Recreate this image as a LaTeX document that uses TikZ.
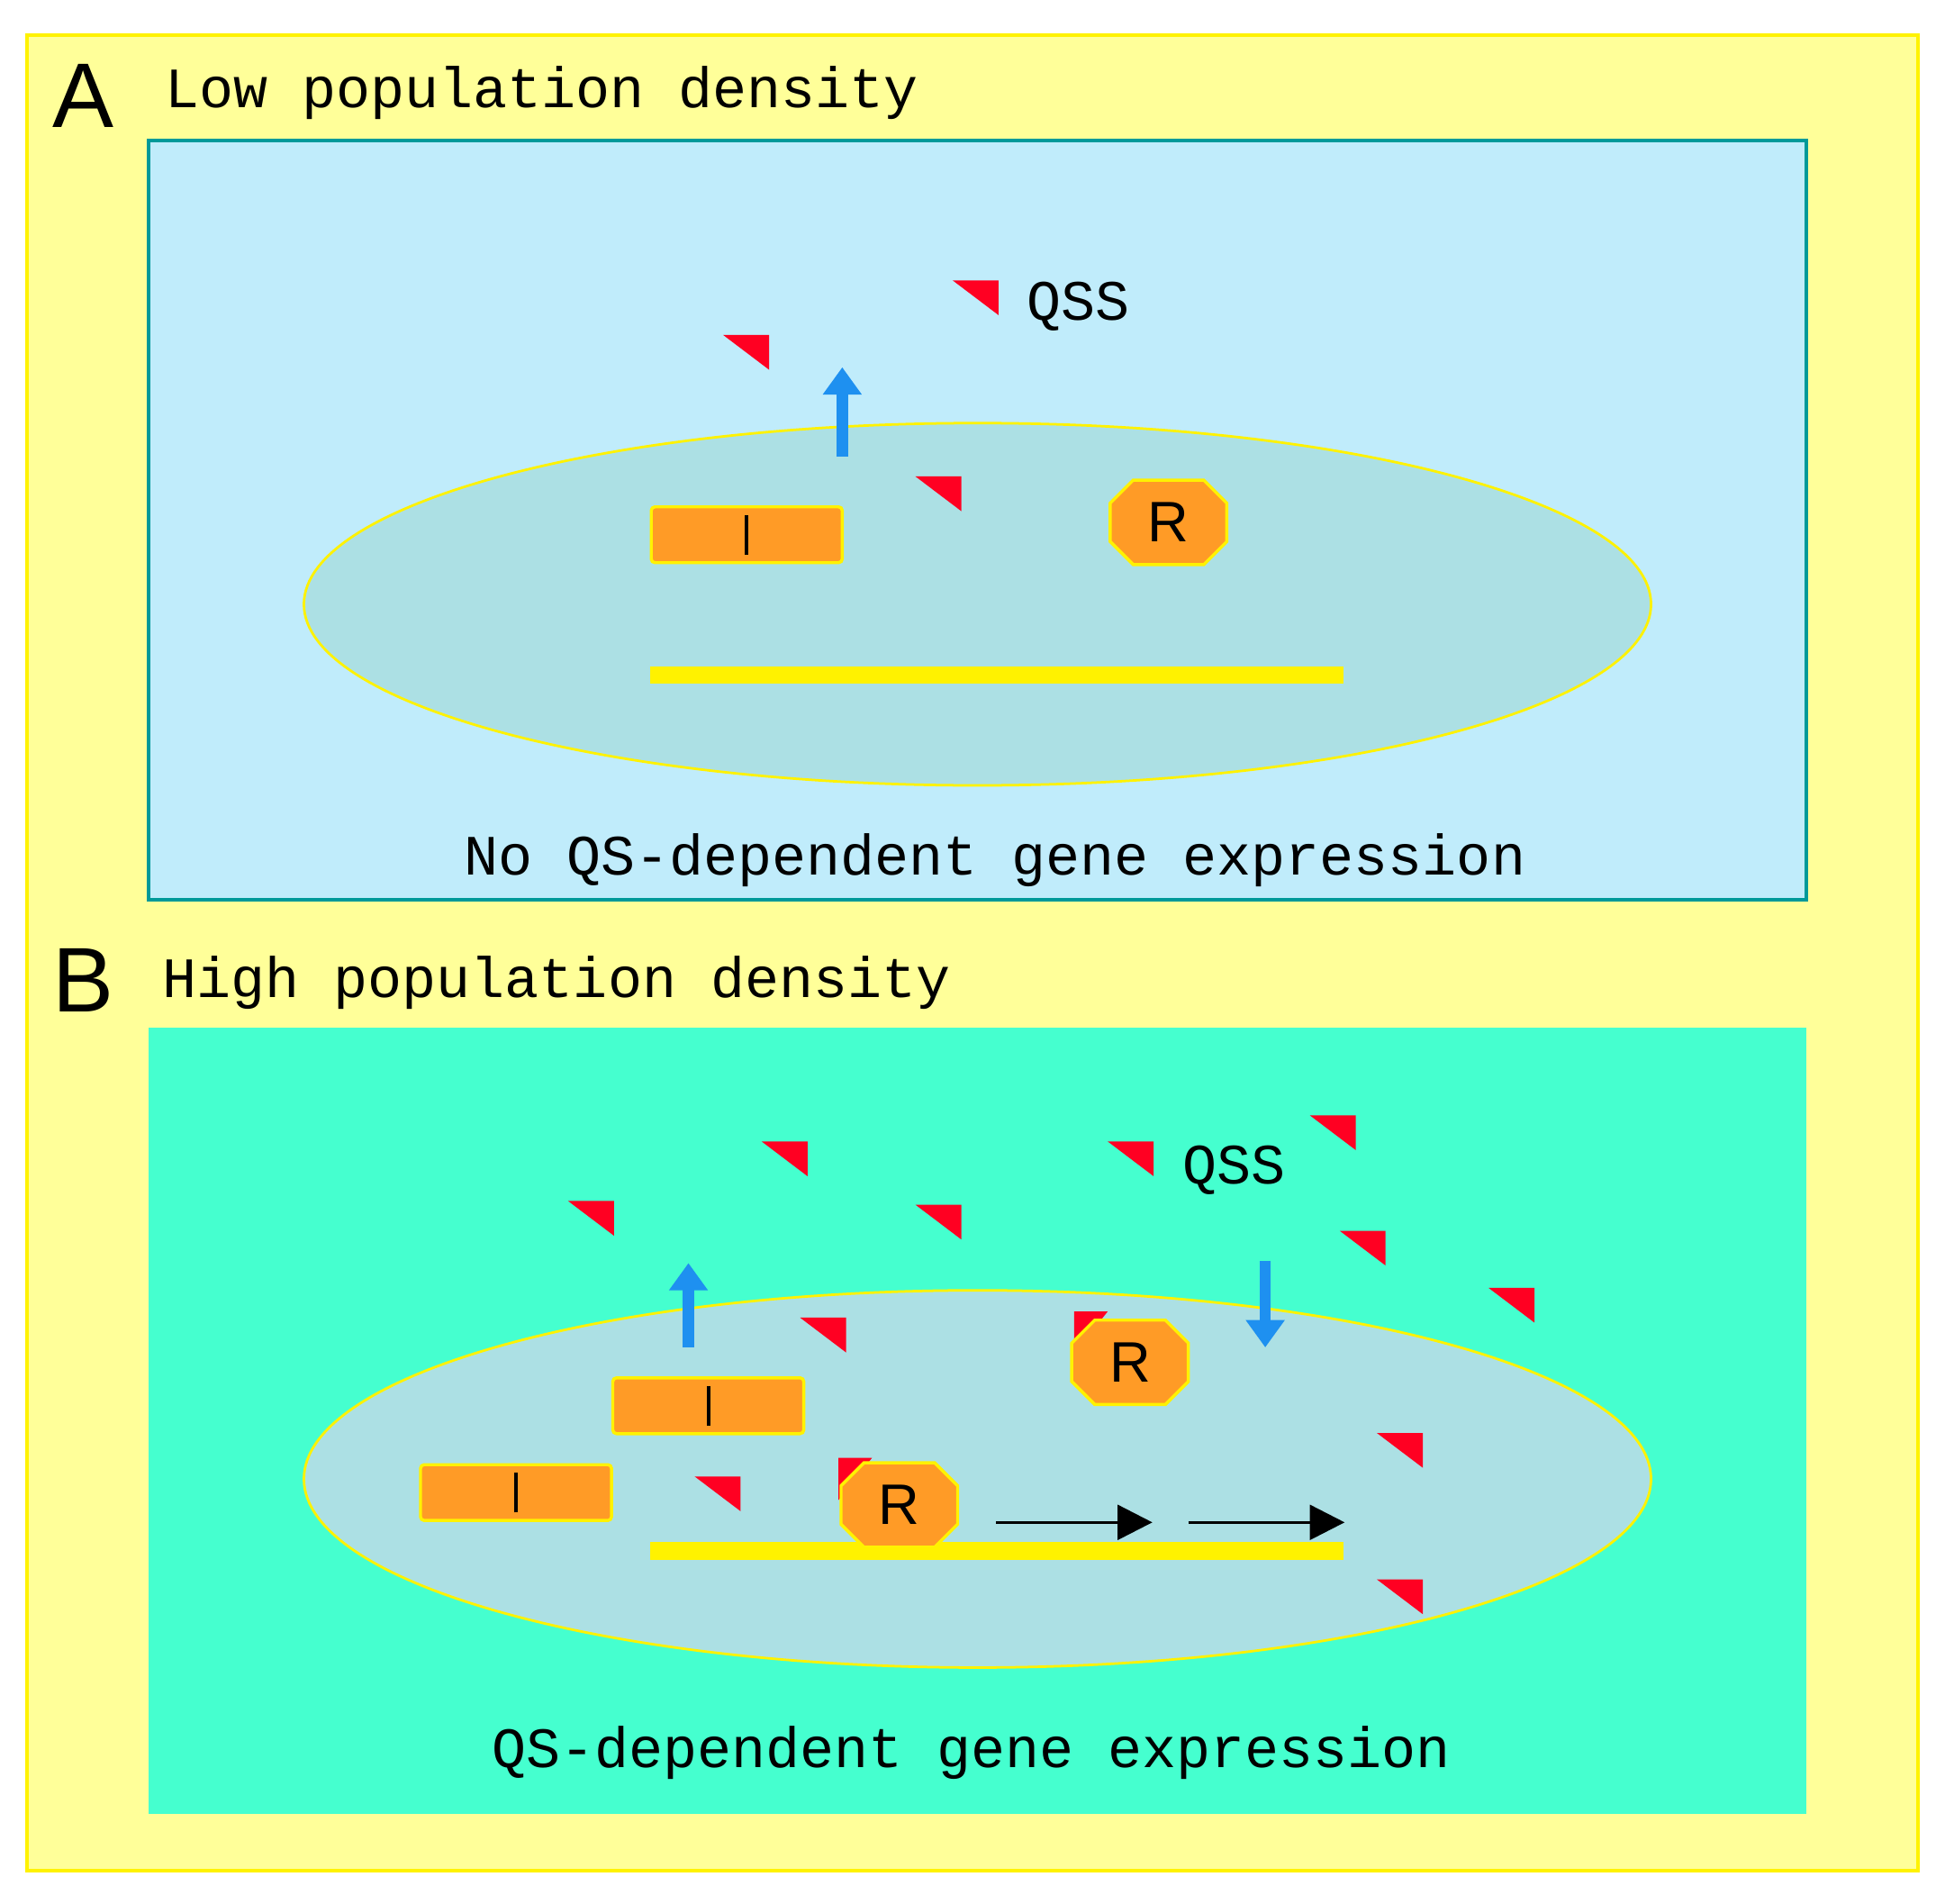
\documentclass[tikz,border=0pt]{standalone}
\usepackage{fontspec}
\setmainfont{Liberation Mono}
\newfontfamily\sansf{Liberation Sans}
\usetikzlibrary{shapes.misc,arrows.meta}
\definecolor{bgY}{HTML}{FFFF99}
\definecolor{panA}{HTML}{C0ECFB}
\definecolor{panB}{HTML}{45FFCF}
\definecolor{cell}{HTML}{ACE0E4}
\definecolor{orng}{HTML}{FF9B26}
\definecolor{blu}{HTML}{1E90F0}
\definecolor{qred}{HTML}{FF0022}
\definecolor{tealb}{HTML}{009999}
\tikzset{
 lab/.style={font=\fontsize{46}{50}\selectfont, inner sep=0pt},
 big/.style={font=\sansf\fontsize{74}{80}\selectfont, inner sep=0pt},
 gene/.style={draw=yellow, line width=2.5pt, fill=orng, rounded corners=3pt, minimum width=154pt, minimum height=45pt, inner sep=0pt},
 recp/.style={chamfered rectangle, chamfered rectangle xsep=15pt, draw=yellow, line width=2.5pt, fill=orng, minimum width=94pt, minimum height=68pt, inner sep=0pt, font=\sansf\fontsize{46}{50}\selectfont},
 cellE/.style={draw=yellow, line width=2pt, fill=cell},
 dna/.style={yellow, line width=14pt},
 barr/.style={blu, line width=9pt, -{Triangle[length=22pt,width=30pt]}},
 karr/.style={black, line width=2.5pt, -{Triangle[length=28pt,width=28pt]}},
}
\newcommand{\sig}[2]{\fill[qred] (#1,#2) -- ++(37,0) -- ++(0,28) -- cycle;}
\newcommand{\bsig}[2]{\fill[qred] (#1,#2) -- ++(27,0) -- ++(-27,34) -- cycle;}
\newcommand{\Ibar}[1]{\draw[line width=3pt] ([yshift=-16pt]#1.center) -- ([yshift=16pt]#1.center);}
\begin{document}
\begin{tikzpicture}[x=1pt,y=-1pt]
\useasboundingbox (0,0) rectangle (1568,1534);
\fill[white] (0,0) rectangle (1568,1534);
\draw[fill=bgY, draw=yellow, line width=3pt] (22,28) rectangle (1546,1508);
% Panel A
\node[big, anchor=west] (A) at (42,77) {A};
\node[lab, anchor=west] (tA) at (133,75) {Low population density};
\draw[fill=panA, draw=tealb, line width=3pt] (120,113) rectangle (1456,725);
\draw[cellE] (788,487) ellipse [x radius=543, y radius=146];
\draw[dna] (524,544) -- (1083,544);
\node[gene] (gA) at (602,431) {};
\Ibar{gA}
\node[recp] (rA) at (942,421) {R};
\coordinate (aA1) at (679,368); \coordinate (aA2) at (679,296);
\draw[barr] (aA1) -- (aA2);
\sig{768}{226}\sig{583}{270}\sig{738}{384}
\node[lab, anchor=west] (qA) at (828,247) {QSS};
\node[lab] (eA) at (802,693) {No QS-dependent gene expression};
% Panel B
\node[big, anchor=west] (B) at (42,790) {B};
\node[lab, anchor=west] (tB) at (131,792) {High population density};
\fill[panB] (120,828) rectangle (1456,1462);
\draw[cellE] (788,1192) ellipse [x radius=543, y radius=152];
\draw[dna] (524,1250) -- (1083,1250);
\node[gene] (gB1) at (571,1133) {};
\Ibar{gB1}
\node[gene] (gB2) at (416,1203) {};
\Ibar{gB2}
\bsig{866}{1057}\bsig{676}{1175}
\node[recp] (rB1) at (911,1098) {R};
\node[recp] (rB2) at (725,1213) {R};
\coordinate (uB1) at (555,1086); \coordinate (uB2) at (555,1018);
\draw[barr] (uB1) -- (uB2);
\coordinate (dB1) at (1020,1016); \coordinate (dB2) at (1020,1086);
\draw[barr] (dB1) -- (dB2);
\coordinate (k1) at (803,1227); \coordinate (k2) at (929,1227);
\coordinate (k3) at (958,1227); \coordinate (k4) at (1084,1227);
\draw[karr] (k1) -- (k2);
\draw[karr] (k3) -- (k4);
\sig{614}{920}\sig{458}{968}\sig{738}{971}\sig{893}{920}\sig{1056}{899}
\sig{1080}{992}\sig{1200}{1038}\sig{645}{1062}\sig{560}{1190}
\sig{1110}{1155}\sig{1110}{1273}
\node[lab, anchor=west] (qB) at (953,943) {QSS};
\node[lab] (eB) at (783,1413) {QS-dependent gene expression};
\end{tikzpicture}
\end{document}
